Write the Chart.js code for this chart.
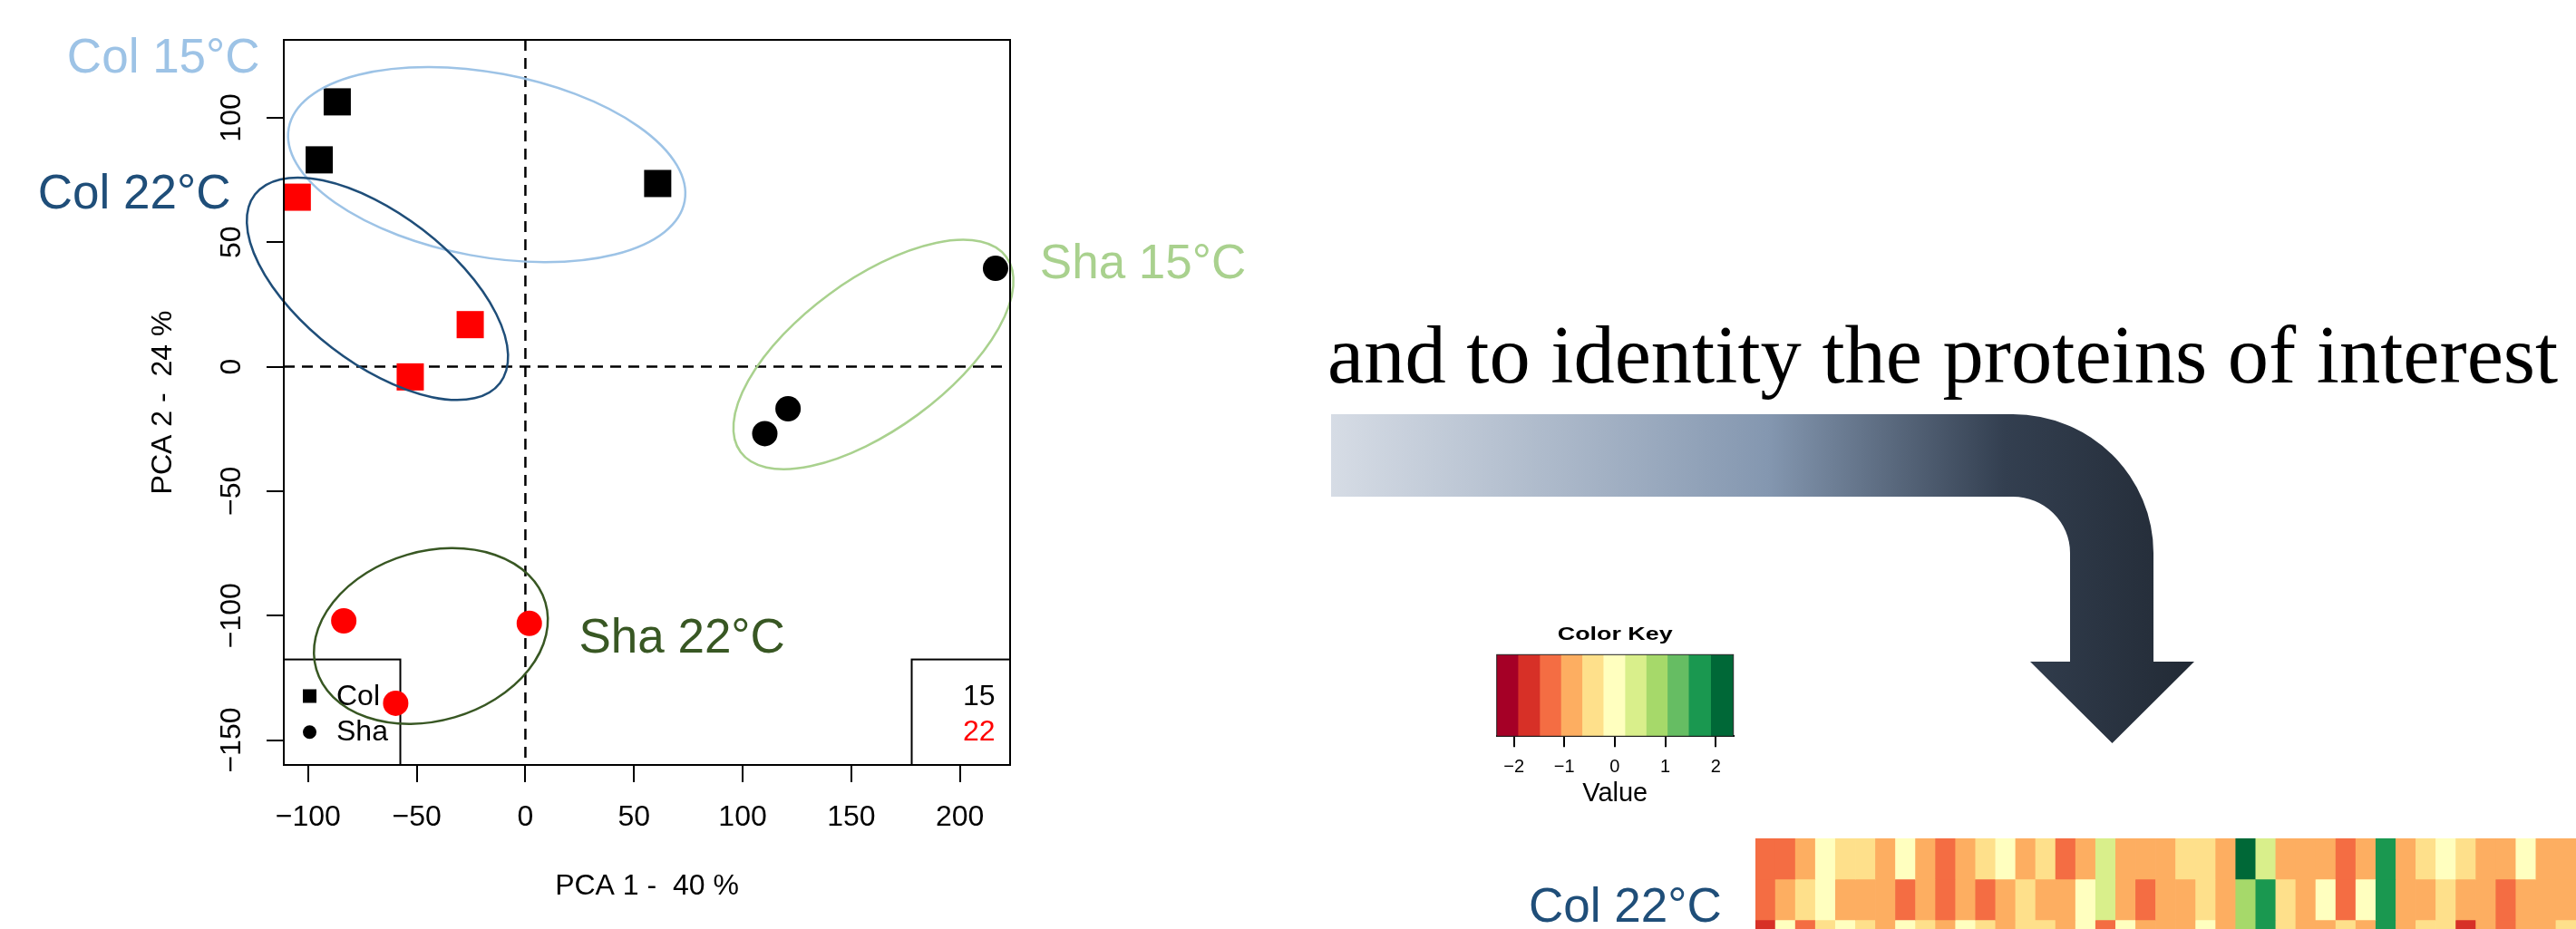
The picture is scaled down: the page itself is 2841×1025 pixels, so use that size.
<!DOCTYPE html>
<html><head><meta charset="utf-8">
<script src="https://cdn.jsdelivr.net/npm/chart.js@4.4.1/dist/chart.umd.min.js"></script>
<style>
html,body{margin:0;padding:0;background:#fff;width:2841px;height:1025px;overflow:hidden;}
canvas,svg{position:absolute;}
</style></head><body>
<svg id="deco" width="2841" height="1025" style="left:0;top:0">
 <defs><linearGradient id="arrowGrad" gradientUnits="userSpaceOnUse" x1="1468" y1="0" x2="2420" y2="0">
  <stop offset="0" stop-color="#D6DCE5"/><stop offset="0.506" stop-color="#8497B0"/><stop offset="0.78" stop-color="#333F50"/><stop offset="1" stop-color="#222A35"/></linearGradient></defs>
 <path d="M1468,457 L2220,457 A155,153 0 0 1 2375,610 L2375,730 L2420,730 L2329.5,820 L2239,730 L2283,730 L2283,610 A63,62 0 0 0 2220,548 L1468,548 Z" fill="url(#arrowGrad)"/>
 <text x="1464" y="422" font-family="Liberation Serif, Times New Roman, serif" font-size="90.5" fill="#000">and to identity the proteins of interest</text>
 <text x="1686" y="1017" font-family="Liberation Sans, Arial, sans-serif" font-size="53" fill="#1F4E79">Col 22°C</text>
</svg>
<canvas id="pca" width="2841" height="1025" style="left:0;top:0"></canvas>
<canvas id="key" width="360" height="220" style="left:1600px;top:680px"></canvas>
<canvas id="heat" width="905" height="135" style="left:1936px;top:925px"></canvas>
<script>
// ---------- PCA data ----------
const col15X = [-86.6, -94.9, 60.9];
const col15Y = [106.4, 83.1, 73.6];
const col22X = [-105.0, -25.4, -53.0];
const col22Y = [68.1, 16.9, -4.1];
const sha15X = [216.4, 120.9, 110.2];
const sha15Y = [39.5, -16.9, -26.9];
const sha22X = [-83.6, 1.8, -59.7];
const sha22Y = [-102.1, -103.1, -135.2];
const xTicks = [-100, -50, 0, 50, 100, 150, 200];
const yTicks = [-150, -100, -50, 0, 50, 100];
const xRange = [-111.2, 223.1];
const yRange = [-160, 131.3];
const groupNames = ['Col 15°C', 'Col 22°C', 'Sha 15°C', 'Sha 22°C'];
const ellipseCX = [-17.8, -68.1, 160.2, -43.5];
const ellipseCY = [81.2, 31.3, 4.9, -108.2];
const labelX = [-211, -224.4, 236.8, 24.6];
const labelY = [118.2, 63.5, 35.4, -114.9];
const shapeLegend = ['Col', 'Sha'];
const tempLegend = ['15', '22'];

// ---------- heatmap data ----------
const keyBreaks = [-2.34, -1.92, -1.49, -1.07, -0.65, -0.23, 0.2, 0.62, 1.04, 1.46, 1.9, 2.35];
const keyTicks = [-2, -1, 0, 1, 2];
const heatRow1 = [-1.3,-1.3,-0.85,0,-0.45,-0.45,-0.85,0,-0.85,-1.3,-0.85,-0.45,0,-0.85,-0.45,-1.3,-0.85,0.4,-0.85,-0.85,-0.85,-0.45,-0.45,-0.85,2.1,0.4,-0.85,-0.85,-0.85,-1.3,-0.85,1.7,-0.85,-0.45,0,-0.45,-0.85,-0.85,0,-0.85,-0.85];
const heatRow2 = [-1.3,-0.85,-0.45,0,-0.85,-0.85,-0.85,-1.3,-0.85,-1.3,-0.85,-1.3,-0.85,-0.45,-0.85,-0.85,0,0.4,-0.85,-1.3,-0.85,-0.85,-0.45,-0.85,0.8,1.7,-0.45,-0.85,0,-1.3,0,1.7,-0.85,-0.85,-0.45,-0.85,-0.85,-1.3,-0.85,-0.85,-0.85];
const heatRow3 = [-1.7,0,-1.3,-0.45,0,-0.45,-0.85,0,-0.45,-0.85,0,-0.45,-0.85,-0.45,-0.45,-0.85,0,-1.3,0,-0.85,-0.85,-0.85,0,-0.85,0.8,1.7,-0.45,-0.85,-0.85,-0.45,-0.85,1.7,-0.85,-0.45,-0.45,-1.7,-0.85,-1.3,-0.85,-0.85,-0.45];

// ---------- styles ----------
const FONT = '"Liberation Sans", Arial, sans-serif';
Chart.defaults.font.family = FONT;
Chart.defaults.color = '#000';
const groupColors = ['#9DC3E6', '#1F4E79', '#A9D18E', '#385723'];
const ellipseShape = [
  {a: 222, b: 101.5, rot: 10.5},
  {a: 170.5, b: 82.1, rot: 37.6},
  {a: 181.8, b: 82.5, rot: -36.3},
  {a: 131.6, b: 93.4, rot: -16.3}
];
const keyColors = ['#A50026','#D73027','#F46D43','#FDAE61','#FEE08B','#FFFFBF','#D9EF8B','#A6D96A','#66BD63','#1A9850','#006837'];
const minus = v => String(v).replace('-', '\u2212');
const pts = (xs, ys) => xs.map((x, i) => ({x, y: ys[i]}));

const pcaDecor = {
  id: 'pcaDecor',
  beforeDatasetsDraw(chart) {
    const {ctx, chartArea: ca, scales: {x, y}} = chart;
    ctx.save();
    ctx.strokeStyle = '#000';
    ctx.lineWidth = 2.5;
    ctx.setLineDash([12, 8]);
    const x0 = x.getPixelForValue(0), y0 = y.getPixelForValue(0);
    ctx.beginPath(); ctx.moveTo(x0, ca.top); ctx.lineTo(x0, ca.bottom); ctx.stroke();
    ctx.beginPath(); ctx.moveTo(ca.left, y0); ctx.lineTo(ca.right, y0); ctx.stroke();
    ctx.setLineDash([]);
    ctx.lineWidth = 2;
    ctx.strokeRect(ca.left, ca.bottom - 116.4, 128.5, 116.4);
    ctx.strokeRect(ca.right - 108.5, ca.bottom - 116.4, 108.5, 116.4);
    ctx.fillStyle = '#000';
    ctx.fillRect(ca.left + 21, ca.bottom - 83.5, 15, 15);
    ctx.beginPath(); ctx.arc(ca.left + 28.5, ca.bottom - 36.3, 7.5, 0, 2 * Math.PI); ctx.fill();
    ctx.font = '32px ' + FONT;
    ctx.textBaseline = 'middle';
    ctx.textAlign = 'left';
    ctx.fillText(shapeLegend[0], ca.left + 58, ca.bottom - 75);
    ctx.fillText(shapeLegend[1], ca.left + 58, ca.bottom - 36);
    ctx.textAlign = 'right';
    ctx.fillText(tempLegend[0], ca.right - 16.5, ca.bottom - 75);
    ctx.fillStyle = '#FF0000';
    ctx.fillText(tempLegend[1], ca.right - 16.5, ca.bottom - 36);
    ctx.restore();
  },
  afterDatasetsDraw(chart) {
    const {ctx, chartArea: ca, scales: {x, y}} = chart;
    ctx.save();
    ellipseCX.forEach((cx, i) => {
      const s = ellipseShape[i];
      ctx.beginPath();
      ctx.ellipse(x.getPixelForValue(cx), y.getPixelForValue(ellipseCY[i]), s.a, s.b, s.rot * Math.PI / 180, 0, 2 * Math.PI);
      ctx.strokeStyle = groupColors[i];
      ctx.lineWidth = 2.5;
      ctx.stroke();
    });
    ctx.strokeStyle = '#000';
    ctx.lineWidth = 2;
    ctx.strokeRect(ca.left, ca.top, ca.width, ca.height);
    ctx.font = '53px ' + FONT;
    ctx.textAlign = 'left';
    ctx.textBaseline = 'alphabetic';
    groupNames.forEach((n, i) => {
      ctx.fillStyle = groupColors[i];
      ctx.fillText(n, x.getPixelForValue(labelX[i]), y.getPixelForValue(labelY[i]));
    });
    ctx.restore();
  }
};

const squareStyle = {pointStyle: 'rect', pointRadius: 21.2, borderWidth: 0, clip: false};
const circleStyle = {pointStyle: 'circle', pointRadius: 14, borderWidth: 0, clip: false};

new Chart(document.getElementById('pca'), {
  type: 'scatter',
  data: {
    datasets: [
      {label: groupNames[0], data: pts(col15X, col15Y), backgroundColor: '#000', ...squareStyle},
      {label: groupNames[1], data: pts(col22X, col22Y), backgroundColor: '#FF0000', ...squareStyle},
      {label: groupNames[2], data: pts(sha15X, sha15Y), backgroundColor: '#000', ...circleStyle},
      {label: groupNames[3], data: pts(sha22X, sha22Y), backgroundColor: '#FF0000', ...circleStyle}
    ]
  },
  options: {
    responsive: false, animation: false, events: [],
    layout: {padding: {top: 44, right: 2841 - 1114, left: 0, bottom: 0}},
    plugins: {legend: {display: false}, tooltip: {enabled: false}},
    scales: {
      x: {
        type: 'linear', min: xRange[0], max: xRange[1],
        afterBuildTicks: s => { s.ticks = xTicks.map(v => ({value: v})); },
        afterFit: s => { s.height = 181; },
        grid: {drawOnChartArea: false, drawTicks: true, tickLength: 19, color: '#000', lineWidth: 2},
        border: {display: false},
        ticks: {font: {size: 32}, color: '#000', padding: 19.8, maxRotation: 0, autoSkip: false, callback: minus},
        title: {display: true, text: 'PCA 1 -  40 %', font: {size: 32}, color: '#000', padding: {top: 0, bottom: 27.8}}
      },
      y: {
        type: 'linear', min: yRange[0], max: yRange[1],
        afterBuildTicks: s => { s.ticks = yTicks.map(v => ({value: v})); },
        afterFit: s => { s.width = 313; },
        grid: {drawOnChartArea: false, drawTicks: true, tickLength: 19, color: '#000', lineWidth: 2},
        border: {display: false},
        ticks: {font: {size: 32}, color: '#000', padding: 2, minRotation: 90, maxRotation: 90, crossAlign: 'center', autoSkip: false, callback: minus},
        title: {display: true, text: 'PCA 2 -  24 %', font: {size: 32}, color: '#000', padding: {top: 160.8, bottom: 0}}
      }
    }
  },
  plugins: [pcaDecor]
});

// ---------- colour key ----------
const keyDecor = {
  id: 'keyDecor',
  afterDatasetsDraw(chart) {
    const {ctx, chartArea: ca} = chart;
    ctx.save();
    ctx.strokeStyle = '#222';
    ctx.lineWidth = 1;
    ctx.strokeRect(ca.left, ca.top, ca.width, ca.height);
    ctx.font = 'bold 21px ' + FONT;
    ctx.textAlign = 'center';
    ctx.textBaseline = 'middle';
    ctx.fillStyle = '#000';
    ctx.translate((ca.left + ca.right) / 2, 20.7);
    ctx.scale(1.28, 1);
    ctx.fillText('Color Key', 0, 0);
    ctx.restore();
  }
};
new Chart(document.getElementById('key'), {
  type: 'bar',
  data: {
    labels: ['Value'],
    datasets: keyColors.map((c, i) => ({
      data: [[keyBreaks[i], keyBreaks[i + 1]]], backgroundColor: c, borderWidth: 0,
      grouped: false, barPercentage: 1, categoryPercentage: 1
    }))
  },
  options: {
    indexAxis: 'y', responsive: false, animation: false, events: [],
    layout: {padding: {left: 50.7, right: 48.3, top: 42.3, bottom: 0}},
    plugins: {legend: {display: false}, tooltip: {enabled: false}},
    scales: {
      x: {
        type: 'linear', min: keyBreaks[0], max: keyBreaks[keyBreaks.length - 1],
        afterBuildTicks: s => { s.ticks = keyTicks.map(v => ({value: v})); },
        afterFit: s => { s.height = 87.7; },
        grid: {drawOnChartArea: false, drawTicks: true, tickLength: 12, color: '#000', lineWidth: 2},
        border: {display: true, color: '#000', width: 2},
        ticks: {font: {size: 20}, color: '#000', padding: 10.4, maxRotation: 0, autoSkip: false, callback: minus},
        title: {display: true, text: 'Value', font: {size: 29}, color: '#000', padding: {top: 0, bottom: 6.6}}
      },
      y: {type: 'category', display: false}
    }
  },
  plugins: [keyDecor]
});

// ---------- heatmap ----------
const heatRows = [heatRow1, heatRow2, heatRow3];
const heatColumns = heatRow1.map((_, i) => 'protein ' + (i + 1));
const colourFor = v => {
  for (let i = 0; i < keyColors.length; i++) {
    if (v < keyBreaks[i + 1]) return keyColors[i];
  }
  return keyColors[keyColors.length - 1];
};
new Chart(document.getElementById('heat'), {
  type: 'bar',
  data: {
    labels: heatColumns,
    datasets: heatRows.map((row, r) => ({
      label: 'row ' + (r + 1),
      data: row.map(() => 1),
      backgroundColor: row.map(colourFor),
      borderWidth: 0, barPercentage: 1, categoryPercentage: 1
    }))
  },
  options: {
    responsive: false, animation: false, events: [],
    layout: {padding: 0},
    plugins: {legend: {display: false}, tooltip: {enabled: false}},
    scales: {
      x: {stacked: true, display: false},
      y: {stacked: true, display: false, min: 0, max: 3, reverse: true}
    }
  }
});
</script>
</body></html>
